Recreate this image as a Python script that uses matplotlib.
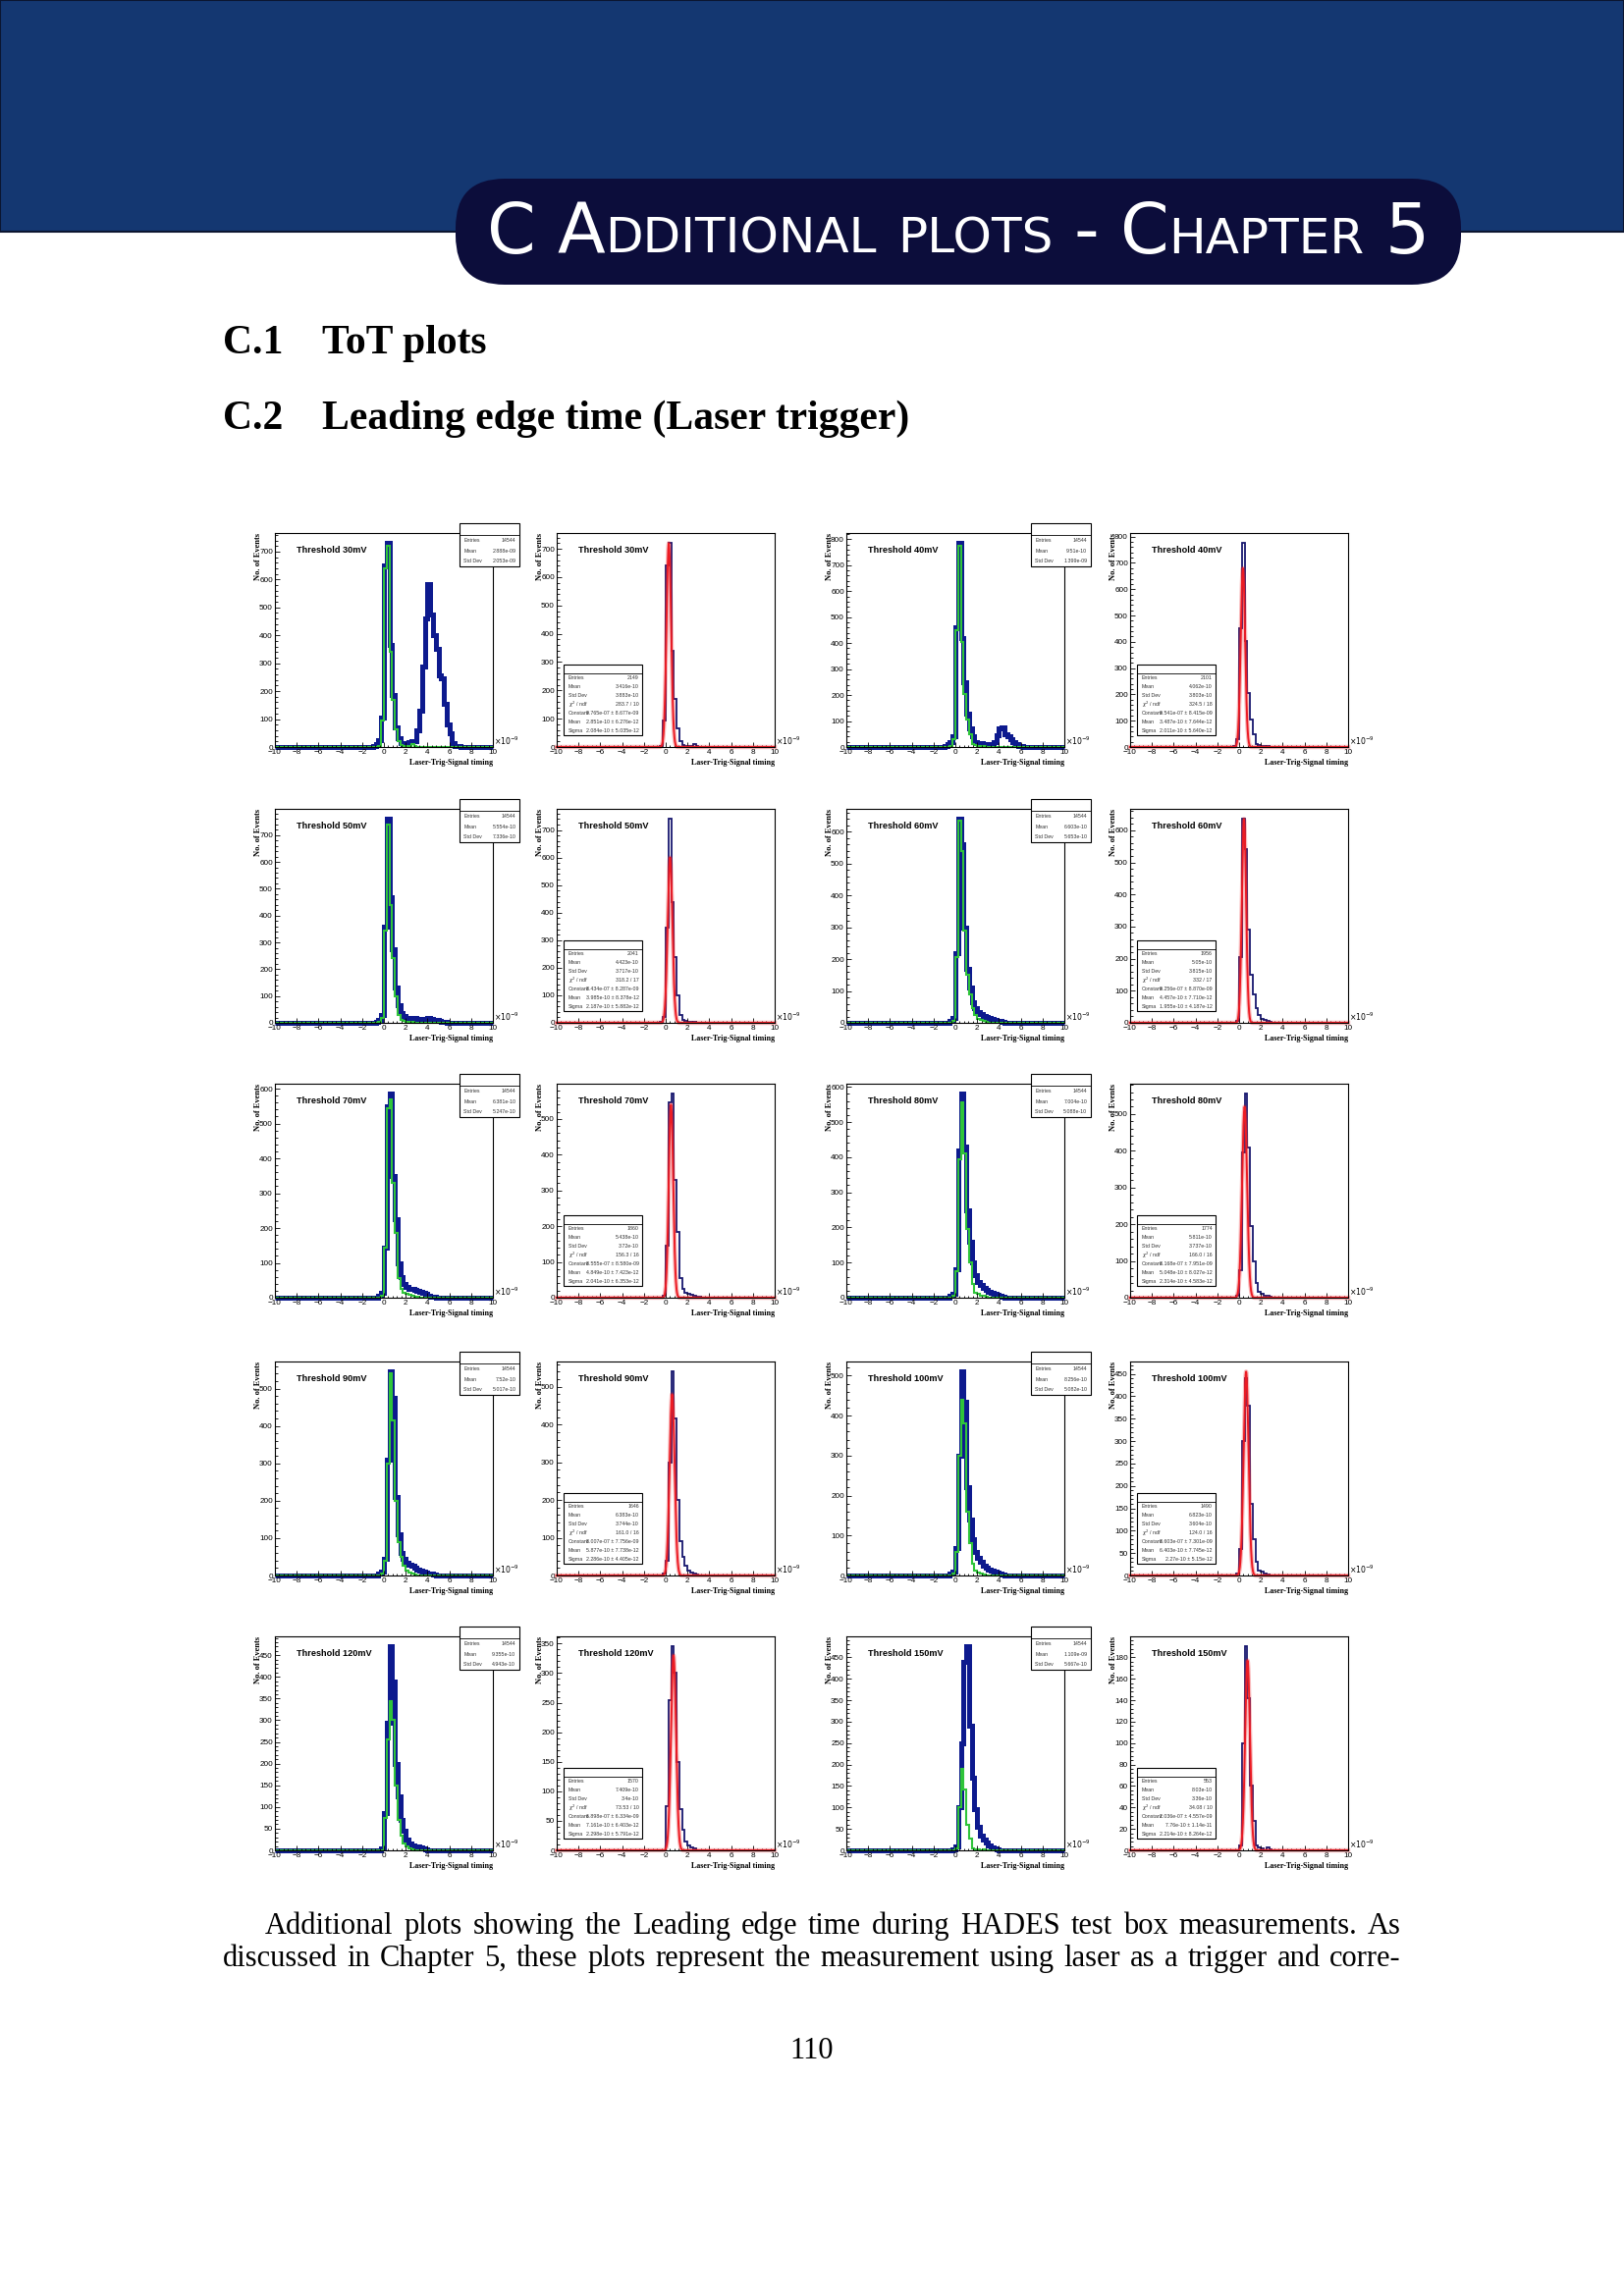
import numpy as np
import matplotlib
matplotlib.use('Agg')
import matplotlib.pyplot as plt
from matplotlib.patches import Rectangle, FancyBboxPatch
from matplotlib.ticker import MultipleLocator, AutoMinorLocator

plt.rcParams['font.family'] = ['Liberation Sans', 'DejaVu Sans']
plt.rcParams['mathtext.fontset'] = 'dejavusans'

# ---- data -------------------------------------------------------------------
thresholds = [30, 40, 50, 60, 70, 80, 90, 100, 120, 150]

# bin contents (0.25 ns bins) starting at -1.0 ns, everything else empty
# "all" = all hits (blue), "sel" = selected hits (green on the left, navy on the right)
all_30 = [5, 10, 25, 105, 650, 730, 365, 185, 70, 30, 15, 12, 15, 18, 20, 20, 60, 130, 290, 460, 585, 475, 400, 350, 255, 245, 155, 80, 50, 15, 5, 3]
sel_30 = [0, 0, 5, 95, 640, 720, 340, 170, 65, 20, 8, 5, 5, 5, 10, 3]
all_40 = [5, 10, 20, 40, 460, 785, 420, 250, 130, 70, 40, 20, 15, 15, 12, 10, 10, 8, 20, 45, 70, 75, 50, 40, 30, 20, 10, 5, 3]
sel_40 = [0, 0, 5, 30, 450, 775, 405, 205, 105, 50, 10, 8, 5, 5, 5]
all_50 = [0, 5, 10, 30, 360, 760, 470, 275, 130, 65, 35, 25, 20, 18, 18, 17, 16, 15, 15, 15, 18, 15, 12, 10, 8, 5, 3]
sel_50 = [0, 0, 3, 20, 345, 740, 440, 240, 100, 30, 12, 8, 5, 4, 3]
all_60 = [0, 0, 5, 15, 220, 640, 560, 300, 170, 110, 65, 45, 35, 28, 22, 18, 14, 11, 9, 7, 5, 3]
sel_60 = [0, 0, 0, 5, 205, 635, 540, 290, 150, 90, 45, 25, 12, 8, 5, 3]
all_70 = [0, 0, 5, 15, 145, 550, 585, 350, 225, 100, 60, 40, 30, 25, 25, 22, 20, 18, 15, 10, 6, 4, 2]
sel_70 = [0, 0, 0, 5, 145, 545, 570, 330, 185, 55, 25, 15, 10, 8, 6, 4, 3]
all_80 = [0, 0, 5, 10, 80, 420, 580, 430, 250, 160, 100, 65, 45, 35, 28, 22, 18, 14, 10, 7, 5, 3]
sel_80 = [0, 0, 0, 5, 75, 395, 555, 410, 195, 100, 40, 15, 10, 5, 5, 3]
all_90 = [0, 0, 5, 10, 45, 310, 545, 475, 210, 110, 60, 45, 35, 30, 25, 20, 15, 12, 10, 8, 5, 4, 2]
sel_90 = [0, 0, 0, 5, 40, 300, 540, 415, 200, 90, 50, 25, 12, 8, 5, 3]
all_100 = [0, 0, 5, 10, 70, 300, 510, 435, 220, 140, 90, 60, 45, 35, 25, 20, 15, 12, 10, 7, 5, 3]
sel_100 = [0, 0, 0, 5, 60, 300, 440, 380, 160, 80, 30, 12, 8, 5, 3]
all_120 = [0, 0, 0, 5, 85, 295, 470, 390, 200, 125, 70, 45, 25, 15, 12, 10, 8, 6, 5, 3]
sel_120 = [0, 0, 0, 0, 75, 255, 345, 300, 150, 70, 35, 15, 8, 5, 3]
all_150 = [0, 0, 0, 3, 10, 100, 250, 440, 475, 290, 170, 95, 55, 35, 25, 18, 12, 8, 5, 3]
sel_150 = [0, 0, 0, 0, 5, 100, 190, 142, 60, 27, 5, 3, 2, 0, 3, 1]

all_hists = [all_30, all_40, all_50, all_60, all_70, all_80, all_90, all_100, all_120, all_150]
sel_hists = [sel_30, sel_40, sel_50, sel_60, sel_70, sel_80, sel_90, sel_100, sel_120, sel_150]

# gaussian fits on the right-hand plots (height in counts, mean/sigma in ns)
fit_amp = [720, 680, 600, 635, 540, 520, 480, 455, 330, 177]
fit_mu = [0.2851, 0.3487, 0.3985, 0.4457, 0.4849, 0.5048, 0.5877, 0.6403, 0.7161, 0.776]
fit_sig = [0.2084, 0.2011, 0.2187, 0.1955, 0.2041, 0.2314, 0.2286, 0.227, 0.2298, 0.2214]

# stat box texts
left_mean = ["2.888e-09", "9.51e-10", "5.554e-10", "6.603e-10", "6.381e-10", "7.004e-10", "7.52e-10", "8.256e-10", "9.355e-10", "1.109e-09"]
left_std = ["2.053e-09", "1.399e-09", "7.336e-10", "5.653e-10", "5.247e-10", "5.088e-10", "5.017e-10", "5.082e-10", "4.943e-10", "5.667e-10"]
right_entries = ["2149", "2101", "2041", "1956", "1860", "1774", "1646", "1490", "1570", "553"]
right_mean = ["3.416e-10", "4.062e-10", "4.423e-10", "5.05e-10", "5.438e-10", "5.811e-10", "6.383e-10", "6.823e-10", "7.409e-10", "8.03e-10"]
right_std = ["3.883e-10", "3.803e-10", "3.717e-10", "3.815e-10", "3.72e-10", "3.737e-10", "3.744e-10", "3.604e-10", "3.4e-10", "3.36e-10"]
chi2_ndf = ["283.7 / 10", "324.5 / 18", "318.2 / 17", "332 / 17", "156.3 / 16", "166.0 / 16", "161.0 / 16", "124.0 / 16", "73.53 / 10", "34.08 / 10"]
fit_const = ["9.765e-07 ± 8.677e-09", "9.541e-07 ± 8.415e-09", "8.434e-07 ± 8.287e-09", "9.256e-07 ± 8.870e-09",
             "8.555e-07 ± 8.580e-09", "8.168e-07 ± 7.951e-09", "8.007e-07 ± 7.756e-09", "8.603e-07 ± 7.301e-09",
             "6.898e-07 ± 6.334e-09", "2.036e-07 ± 4.557e-09"]
fit_mean_txt = ["2.851e-10 ± 6.276e-12", "3.487e-10 ± 7.644e-12", "3.985e-10 ± 8.378e-12", "4.457e-10 ± 7.710e-12",
                "4.849e-10 ± 7.423e-12", "5.048e-10 ± 8.027e-12", "5.877e-10 ± 7.738e-12", "6.403e-10 ± 7.745e-12",
                "7.161e-10 ± 6.403e-12", "7.76e-10 ± 1.14e-11"]
fit_sigma_txt = ["2.084e-10 ± 5.035e-12", "2.011e-10 ± 5.640e-12", "2.187e-10 ± 5.882e-12", "1.955e-10 ± 4.187e-12",
                 "2.041e-10 ± 6.353e-12", "2.314e-10 ± 4.583e-12", "2.286e-10 ± 4.405e-12", "2.27e-10 ± 5.15e-12",
                 "2.298e-10 ± 5.791e-12", "2.214e-10 ± 8.264e-12"]
left_step = [100, 100, 100, 100, 100, 100, 100, 100, 50, 50]
right_step = [100, 100, 100, 100, 100, 100, 100, 50, 50, 20]

body_line1 = "Additional plots showing the Leading edge time during HADES test box measurements.  As"
body_line2 = "discussed in Chapter 5, these plots represent the measurement using laser as a trigger and corre-"

# ---- page -------------------------------------------------------------------
W, H = 1654, 2339
fig = plt.figure(figsize=(W / 100, H / 100), dpi=100)
bg = fig.add_axes([0, 0, 1, 1])
bg.set_xlim(0, W)
bg.set_ylim(H, 0)
bg.axis('off')
r = fig.canvas.get_renderer()

bg.add_patch(Rectangle((0, 0), W, 236, facecolor='#143771', edgecolor='#0b1530', lw=1.5))
bg.add_patch(FancyBboxPatch((464, 182), 1024, 108, boxstyle='round,pad=0,rounding_size=50',
                            facecolor='#0c0d3b', edgecolor='none'))

# chapter title in small caps, scaled to run from x=496 to x=1456
title_words = [[("C", 1)], [("A", 1), ("DDITIONAL", 0)], [("PLOTS", 0)],
               [("-", 1)], [("C", 1), ("HAPTER", 0)], [("5", 1)]]


def title_layout(big, small, draw):
    x = 496
    gap = 0.3 * big * 100 / 72
    for word in title_words:
        for s, is_big in word:
            t = bg.text(x, 258, s, fontsize=big if is_big else small, color='white',
                        family='DejaVu Sans', va='baseline', ha='left')
            x += t.get_window_extent(r).width
            if not draw:
                t.remove()
        x += gap
    return x - gap - 496


span = title_layout(44, 31, False)
k = 960 / span
title_layout(44 * k, 31 * k, True)

serif = ['Liberation Serif', 'DejaVu Serif']
bg.text(227, 360, "C.1", fontsize=30, fontweight='bold', family=serif, va='baseline')
bg.text(328, 360, "ToT plots", fontsize=30, fontweight='bold', family=serif, va='baseline')
bg.text(227, 437, "C.2", fontsize=30, fontweight='bold', family=serif, va='baseline')
bg.text(328, 437, "Leading edge time (Laser trigger)", fontsize=30, fontweight='bold', family=serif,
        va='baseline')


def put_line(words, x0, x1, y, fs):
    ts = [bg.text(0, y, w, fontsize=fs, family=serif, va='baseline') for w in words]
    ws = [t.get_window_extent(r).width for t in ts]
    gap = (x1 - x0 - sum(ws)) / (len(words) - 1)
    x = x0
    for t, w in zip(ts, ws):
        t.set_x(x)
        x += w + gap


put_line(body_line1.split(), 270, 1427, 1970, 22)
put_line(body_line2.split(), 227, 1427, 2003, 22)
bg.text(827, 2097, "110", fontsize=22, family=serif, ha='center', va='baseline')

# ---- histograms -------------------------------------------------------------
edges = np.linspace(-10, 10, 81)
first_bin = 36  # bin starting at -1.0 ns
col_x = [280, 567, 862, 1151]
row_y = [543, 824, 1104, 1387, 1667]
ax_w, ax_h = 222, 218

blue = '#0d1a8e'
green = '#2fc43a'
navy = '#17176e'
red = '#ec1c24'


def full_hist(vals):
    h = np.zeros(80)
    h[first_bin:first_bin + len(vals)] = vals
    return h


def new_axes(col, row, step):
    ax = fig.add_axes([col_x[col] / W, 1 - (row_y[row] + ax_h) / H, ax_w / W, ax_h / H])
    ax.set_xlim(-10, 10)
    ax.xaxis.set_major_locator(MultipleLocator(2))
    ax.xaxis.set_minor_locator(MultipleLocator(0.4))
    ax.yaxis.set_major_locator(MultipleLocator(step))
    ax.yaxis.set_minor_locator(AutoMinorLocator(5))
    ax.tick_params(which='both', direction='in', labelsize=5.9, pad=1.5, width=0.6)
    ax.tick_params(which='major', length=3.4)
    ax.tick_params(which='minor', length=1.8)
    for sp in ax.spines.values():
        sp.set_linewidth(0.8)
    ax.text(-0.075, 1.0, "No. of Events", rotation=90, transform=ax.transAxes, ha='center', va='top',
            fontsize=6.0, fontweight='bold', family=serif)
    ax.text(1.0, -0.075, "Laser-Trig-Signal timing", transform=ax.transAxes, ha='right', va='center',
            fontsize=5.8, fontweight='bold', family=serif)
    ax.text(1.005, 0.0, r"$\times10^{-9}$", transform=ax.transAxes, ha='left', va='bottom', fontsize=5.6)
    return ax


def stat_box(ax, x0, x1, ytop, yhead, rows, dy):
    ybot = yhead - dy * len(rows)
    ax.add_patch(Rectangle((x0, ybot), x1 - x0, ytop - ybot, transform=ax.transAxes, clip_on=False,
                           facecolor='white', edgecolor='black', lw=0.8, zorder=5))
    ax.plot([x0, x1], [yhead, yhead], transform=ax.transAxes, color='black', lw=0.6, clip_on=False, zorder=6)
    for k, (lab, val) in enumerate(rows):
        yy = yhead - dy * (k + 0.5)
        ax.text(x0 + 0.02, yy, lab, transform=ax.transAxes, fontsize=3.8, va='center', ha='left', zorder=7,
                color='#333333')
        ax.text(x1 - 0.015, yy, val, transform=ax.transAxes, fontsize=3.8, va='center', ha='right', zorder=7,
                color='#333333')


xs = np.linspace(-10, 10, 2001)
for i, thr in enumerate(thresholds):
    row = i // 2
    lc = 2 * (i % 2)
    h_all = full_hist(all_hists[i])
    h_sel = full_hist(sel_hists[i])

    # left: all hits with selected hits overlaid
    ax = new_axes(lc, row, left_step[i])
    ax.stairs(h_all, edges, color=blue, lw=3.6, clip_on=False)
    ax.stairs(h_sel, edges, color=green, lw=1.5, clip_on=False)
    ax.set_ylim(0, 1.05 * h_all.max())
    ax.text(0.1, 0.92, f"Threshold {thr}mV", transform=ax.transAxes, fontsize=6.6, fontweight='bold',
            va='center')
    stat_box(ax, 0.846, 1.12, 1.046, 0.99,
             [("Entries", "14544"), ("Mean", left_mean[i]), ("Std Dev", left_std[i])], 0.049)

    # right: selected hits with gaussian fit
    ax = new_axes(lc + 1, row, right_step[i])
    ax.stairs(h_sel, edges, color=navy, lw=1.3, clip_on=False)
    g = fit_amp[i] * np.exp(-0.5 * ((xs - fit_mu[i]) / fit_sig[i]) ** 2)
    ax.plot(xs, g, color=red, lw=3.2, alpha=0.3, clip_on=False)
    ax.plot(xs, g, color=red, lw=1.4, clip_on=False)
    ax.set_ylim(0, 1.05 * max(h_sel.max(), fit_amp[i]))
    ax.text(0.1, 0.92, f"Threshold {thr}mV", transform=ax.transAxes, fontsize=6.6, fontweight='bold',
            va='center')
    stat_box(ax, 0.032, 0.392, 0.385, 0.344,
             [("Entries", right_entries[i]), ("Mean", right_mean[i]), ("Std Dev", right_std[i]),
              (r"$\chi^2$ / ndf", chi2_ndf[i]), ("Constant", fit_const[i]), ("Mean", fit_mean_txt[i]),
              ("Sigma", fit_sigma_txt[i])], 0.0413)

fig.savefig('out.png', dpi=100)
